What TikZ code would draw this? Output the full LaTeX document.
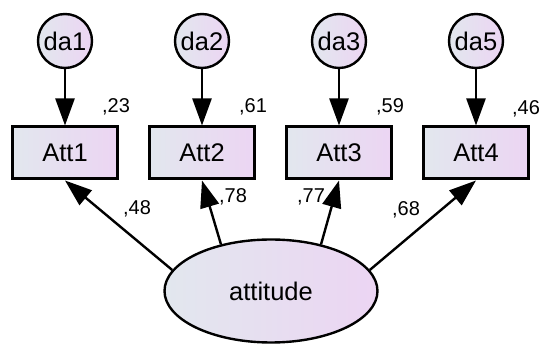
\documentclass[tikz,border=0pt]{standalone}
\usepackage{fontspec}
\setmainfont{Liberation Sans}
\usetikzlibrary{arrows.meta,shapes.geometric}

\begin{document}
\begin{tikzpicture}[x=1pt, y=-1pt,
    err/.style={circle, draw, line width=2.4pt, minimum size=54pt, inner sep=0pt,
        left color=gradl, right color=gradr, font=\fontsize{25.5}{30}\selectfont},
    item/.style={rectangle, draw, line width=3pt, minimum width=105pt, minimum height=52pt,
        left color=gradl, right color=gradr, font=\fontsize{25.5}{30}\selectfont},
    factor/.style={ellipse, draw, line width=2.4pt, minimum width=213pt, minimum height=103pt,
        left color=gradl, right color=gradr, font=\fontsize{25.5}{30}\selectfont},
    est/.style={inner sep=0pt, font=\fontsize{20}{24}\selectfont},
    path/.style={line width=2.4pt, -{Triangle[length=27pt, width=19pt]}}]
    \definecolor{gradl}{HTML}{E2E7EE}
    \definecolor{gradr}{HTML}{ECD5F3}
    \useasboundingbox (0,0) rectangle (542,344);

    \node[err] (da1) at (65, 41) {da1};
    \node[err] (da2) at (202, 41) {da2};
    \node[err] (da3) at (339, 41) {da3};
    \node[err] (da5) at (476, 41) {da5};

    \node[item] (att1) at (65, 153) {Att1};
    \node[item] (att2) at (202, 153) {Att2};
    \node[item] (att3) at (339, 153) {Att3};
    \node[item] (att4) at (476, 153) {Att4};

    \node[factor] (attitude) at (271, 291) {attitude};

    \node[est] (r1) at (116, 107) {,23};
    \node[est] (r2) at (253, 107) {,61};
    \node[est] (r3) at (390, 107) {,59};
    \node[est] (r4) at (526, 109) {,46};

    \node[est] (w1) at (137, 209) {,48};
    \node[est] (w2) at (233, 197) {,78};
    \node[est] (w3) at (311, 197) {,77};
    \node[est] (w4) at (406, 210) {,68};

    \draw[path] (da1) -- (att1);
    \draw[path] (da2) -- (att2);
    \draw[path] (da3) -- (att3);
    \draw[path] (da5) -- (att4);

    \draw[path] (attitude.168) -- (att1.south);
    \draw[path] (attitude.137) -- (att2.south);
    \draw[path] (attitude.43) -- (att3.south);
    \draw[path] (attitude.12) -- (att4.south);
\end{tikzpicture}
\end{document}
